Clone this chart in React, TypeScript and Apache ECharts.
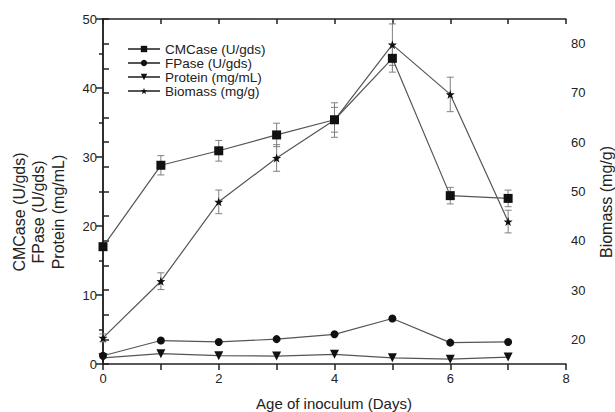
import React, { useEffect, useRef } from "react";
import * as echarts from "echarts";

const days = [0, 1, 2, 3, 4, 5, 6, 7];
const cmcase = [17.0, 28.8, 30.9, 33.2, 35.4, 44.3, 24.4, 24.0];
const cmcaseErr = [0.5, 1.4, 1.5, 1.7, 1.8, 2.0, 1.2, 1.2];
const fpase = [1.2, 3.4, 3.2, 3.6, 4.3, 6.6, 3.1, 3.2];
const protein = [0.9, 1.5, 1.2, 1.15, 1.4, 0.9, 0.7, 1.0];
const biomass = [20.3, 31.8, 47.9, 56.8, 64.5, 79.8, 69.7, 43.9];
const biomassErr = [0.8, 1.7, 2.4, 2.7, 3.5, 4.2, 3.5, 2.3];

const leftTitles = ["CMCase (U/gds)", "FPase (U/gds)", "Protein (mg/mL)"];
const rightTitle = "Biomass (mg/g)";
const xTitle = "Age of inoculum (Days)";

const FONT = "Arial, 'Liberation Sans', Helvetica, sans-serif";
const STAR =
  "path://M0,-10 L2.35,-3.24 L9.51,-3.09 L3.8,1.24 L5.88,8.09 L0,4 L-5.88,8.09 L-3.8,1.24 L-9.51,-3.09 L-2.35,-3.24 Z";

function pairs(vals: number[]) {
  return days.map((d, i) => [d, vals[i]]);
}
function errData(vals: number[], errs: number[]) {
  return days.map((d, i) => [d, vals[i] - errs[i], vals[i] + errs[i]]);
}

function errSeries(name: string, vals: number[], errs: number[], yAxisIndex: number) {
  return {
    type: "custom",
    name,
    xAxisIndex: 0,
    yAxisIndex,
    z: 1,
    silent: true,
    encode: { x: 0, y: [1, 2] },
    data: errData(vals, errs),
    renderItem: (params: any, api: any) => {
      const x = api.value(0);
      const lo = api.coord([x, api.value(1)]);
      const hi = api.coord([x, api.value(2)]);
      const w = 3.5;
      const style = { stroke: "#808080", lineWidth: 1 };
      return {
        type: "group",
        children: [
          { type: "line", shape: { x1: lo[0], y1: lo[1], x2: hi[0], y2: hi[1] }, style },
          { type: "line", shape: { x1: hi[0] - w, y1: hi[1], x2: hi[0] + w, y2: hi[1] }, style },
          { type: "line", shape: { x1: lo[0] - w, y1: lo[1], x2: lo[0] + w, y2: lo[1] }, style },
        ],
      };
    },
  };
}

const lineStyle = { color: "#555", width: 1.2 };
const itemStyle = { color: "#111" };

export default function App() {
  const ref = useRef<HTMLDivElement>(null);
  useEffect(() => {
    if (!ref.current) return;
    const chart = echarts.init(ref.current, undefined, { renderer: "svg" });
    const axisLine = { show: true, lineStyle: { color: "#222", width: 1.5 } };
    const label = { color: "#222", fontSize: 13, fontFamily: FONT };
    chart.setOption({
      animation: false,
      backgroundColor: "#fff",
      grid: { left: 103, right: 49, top: 19, bottom: 48, containLabel: false },
      legend: {
        orient: "vertical",
        left: 122,
        top: 37,
        itemWidth: 32,
        itemHeight: 8,
        itemGap: 0,
        data: ["CMCase (U/gds)", "FPase (U/gds)", "Protein (mg/mL)", "Biomass (mg/g)"],
        textStyle: { fontSize: 13.5, fontFamily: FONT, color: "#222", lineHeight: 12.7 },
      },
      xAxis: [
        {
          type: "value",
          position: "bottom",
          min: 0,
          max: 8,
          interval: 1,
          axisLine,
          splitLine: { show: false },
          axisTick: { show: true, inside: false, length: 6, lineStyle: { color: "#222", width: 1.5 } },
          axisLabel: { ...label, margin: 8, formatter: (v: number) => (v % 2 === 0 ? String(v) : "") },
        },
        {
          type: "value",
          position: "top",
          min: 0,
          max: 8,
          interval: 1,
          axisLine,
          splitLine: { show: false },
          axisTick: { show: true, inside: true, length: 5, lineStyle: { color: "#222", width: 1.5 } },
          axisLabel: { show: false },
        },
      ],
      yAxis: [
        {
          type: "value",
          position: "left",
          min: 0,
          max: 50,
          interval: 10,
          axisLine,
          splitLine: { show: false },
          axisTick: { show: true, inside: false, length: 7, lineStyle: { color: "#222", width: 1.5 } },
          minorTick: { show: true, splitNumber: 2, length: 4, lineStyle: { color: "#222", width: 1.5 } },
          axisLabel: { ...label, margin: 6 },
        },
        {
          type: "value",
          position: "right",
          min: 15,
          max: 85,
          interval: 5,
          axisLine,
          splitLine: { show: false },
          axisTick: { show: true, inside: false, length: 6, lineStyle: { color: "#222", width: 1.5 } },
          axisLabel: { ...label, margin: 5, formatter: (v: number) => (v % 10 === 0 && v >= 20 && v <= 80 ? String(v) : "") },
        },
      ],
      graphic: [
        ...leftTitles.map((t, i) => ({
          type: "text",
          x: 19 + i * 19.5,
          y: 212,
          rotation: Math.PI / 2,
          style: { text: t, fontSize: 16, fontFamily: FONT, fill: "#222", align: "center", verticalAlign: "middle" },
        })),
        {
          type: "text",
          x: 606,
          y: 202,
          rotation: Math.PI / 2,
          style: { text: rightTitle, fontSize: 16, fontFamily: FONT, fill: "#222", align: "center", verticalAlign: "middle" },
        },
        {
          type: "text",
          x: 334,
          y: 403,
          style: { text: xTitle, fontSize: 15, fontFamily: FONT, fill: "#222", align: "center", verticalAlign: "middle" },
        },
      ],
      series: [
        errSeries("cmErr", cmcase, cmcaseErr, 0),
        errSeries("bioErr", biomass, biomassErr, 1),
        {
          type: "line",
          name: "CMCase (U/gds)",
          xAxisIndex: 0,
          yAxisIndex: 0,
          data: pairs(cmcase),
          symbol: "rect",
          symbolSize: 9,
          lineStyle,
          itemStyle,
          z: 3,
        },
        {
          type: "line",
          name: "FPase (U/gds)",
          xAxisIndex: 0,
          yAxisIndex: 0,
          data: pairs(fpase),
          symbol: "circle",
          symbolSize: 8,
          lineStyle,
          itemStyle,
          z: 3,
        },
        {
          type: "line",
          name: "Protein (mg/mL)",
          xAxisIndex: 0,
          yAxisIndex: 0,
          data: pairs(protein),
          symbol: "triangle",
          symbolRotate: 180,
          symbolSize: 9,
          lineStyle,
          itemStyle,
          z: 3,
        },
        {
          type: "line",
          name: "Biomass (mg/g)",
          xAxisIndex: 0,
          yAxisIndex: 1,
          data: pairs(biomass),
          symbol: STAR,
          symbolSize: 9,
          lineStyle,
          itemStyle,
          z: 3,
        },
      ],
    });
    return () => chart.dispose();
  }, []);
  return (
    <div
      ref={ref}
      style={{ position: "fixed", left: 0, top: 0, width: 615, height: 412, background: "#fff" }}
    />
  );
}
